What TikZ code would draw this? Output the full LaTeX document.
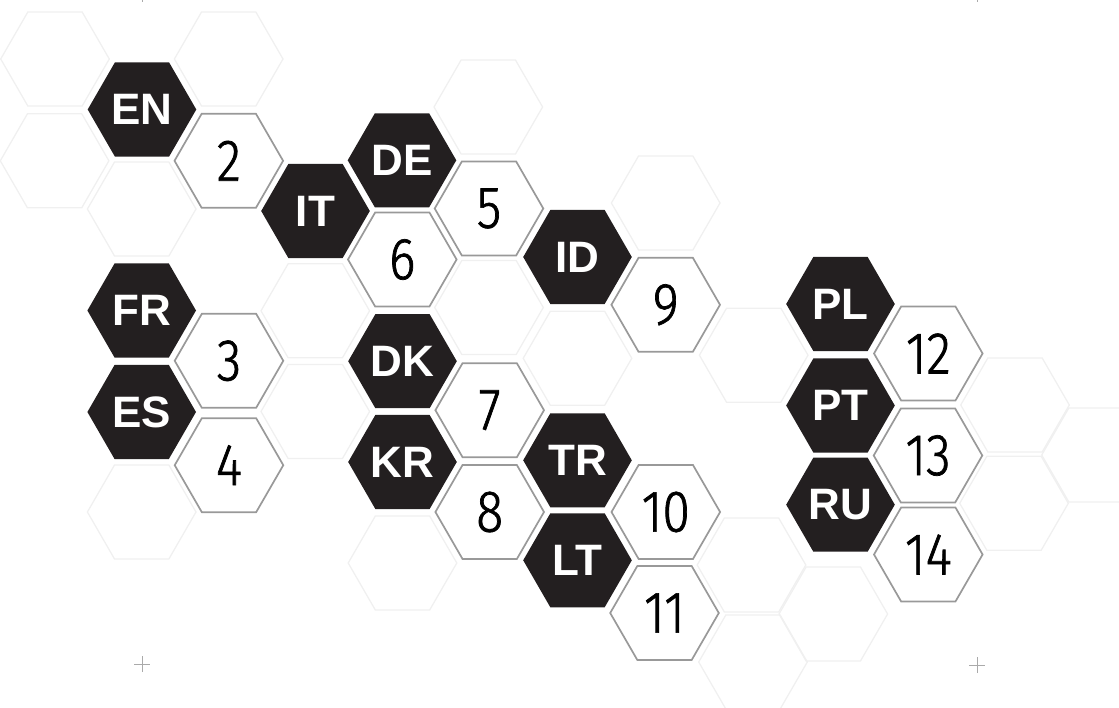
\documentclass[tikz,border=0pt]{standalone}
\usepackage{fontspec}
\setmainfont{Liberation Sans}
\newfontfamily\digitfont{Fira Sans Light}[FakeStretch=0.85,FakeBold=1.2]
\usetikzlibrary{shapes.geometric}
\definecolor{hexdark}{HTML}{231F20}
\definecolor{hexedge}{HTML}{999999}
\definecolor{hexfaint}{HTML}{F0F0F0}
\definecolor{markgray}{HTML}{AAAAAA}

\begin{document}
\begin{tikzpicture}[x=1pt,y=-1pt,
  hex/.style={regular polygon,regular polygon sides=6,
    minimum size=108.6pt,inner sep=0pt,outer sep=0pt},
  bghex/.style={hex,draw=hexfaint,line width=1.3pt},
  lang/.style={hex,fill=hexdark,text=white,font=\fontsize{44}{44}\selectfont\bfseries},
  num/.style={hex,draw=hexedge,fill=white,line width=1.7pt,text=black,
    font=\digitfont\fontsize{59}{59}\selectfont}]
\useasboundingbox (0,0) rectangle (1119,708);
% faint empty cells of the honeycomb
\foreach \x/\y [count=\i] in {55/59,228.7/59,54.6/160.8,141.7/209,488.3/107,
    665.7/203,315.3/310.8,315.3/411.5,141.7/512,577.5/358.3,489/307.5,
    402.5/563,753.7/355.2,1015/405,1096/455,1014/503.3,751.5/565,833.3/614,753/662}
  \node[bghex] (bg\i) at (\x,\y) {};
% language cells
\foreach \x/\y/\l in {142/109.5/EN,315.5/211/IT,402/160.3/DE,577.5/257/ID,
    141.7/310.5/FR,141.7/412/ES,402.5/361.2/DK,402.5/462/KR,577.5/460.3/TR,
    577.5/560.3/LT,840.5/304/PL,840.5/405.5/PT,840.5/504.7/RU}
  \node[lang] (\l) at (\x,\y) {\l};
% numbered cells
\foreach \x/\y/\n in {228.8/160.8/2,229/360.8/3,229/465.2/4,489/208.5/5,
    402.3/259.5/6,489.7/410.2/7,489.7/512/8,665.7/304.8/9,665.8/512/10,
    664.5/613/11,928.3/353.5/12,928/455.5/13,928.3/554.5/14}
  \node[num] (n\n) at (\x,\y) {\n};
% crop marks
\foreach \x/\y [count=\i] in {142/-6,977/-6,142/664,977/665} {
  \coordinate (cm\i) at (\x,\y);
  \draw[markgray,line width=1pt] ([xshift=-8pt]cm\i) -- ([xshift=8pt]cm\i)
    ([yshift=-8pt]cm\i) -- ([yshift=8pt]cm\i);
}
\end{tikzpicture}
\end{document}
